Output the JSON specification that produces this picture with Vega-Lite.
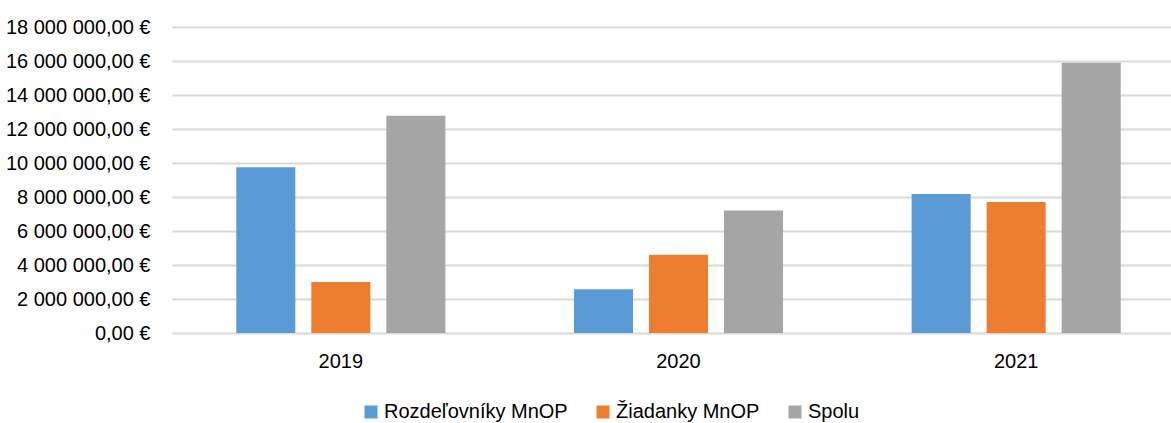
{
  "$schema": "https://vega.github.io/schema/vega-lite/v6.json",
  "width": 999,
  "height": 306,
  "autosize": {"type": "none"},
  "padding": {"left": 172, "top": 27, "right": 0, "bottom": 90},
  "background": "white",
  "config": {
    "view": {"stroke": null},
    "font": "Liberation Sans, Arial",
    "locale": {
      "number": {"decimal": ",", "thousands": " ", "grouping": [3], "currency": ["", " €"]}
    }
  },
  "data": {
    "values": [
      {"rok": "2019", "seria": "Rozdeľovníky MnOP", "suma": 9750000},
      {"rok": "2019", "seria": "Žiadanky MnOP", "suma": 3000000},
      {"rok": "2019", "seria": "Spolu", "suma": 12780000},
      {"rok": "2020", "seria": "Rozdeľovníky MnOP", "suma": 2580000},
      {"rok": "2020", "seria": "Žiadanky MnOP", "suma": 4600000},
      {"rok": "2020", "seria": "Spolu", "suma": 7200000},
      {"rok": "2021", "seria": "Rozdeľovníky MnOP", "suma": 8180000},
      {"rok": "2021", "seria": "Žiadanky MnOP", "suma": 7710000},
      {"rok": "2021", "seria": "Spolu", "suma": 15890000}
    ]
  },
  "mark": {"type": "bar"},
  "encoding": {
    "x": {
      "field": "rok",
      "type": "nominal",
      "scale": {"paddingInner": 0, "paddingOuter": 0, "range": [0, 1013]},
      "axis": {
        "title": null,
        "labelAngle": 0,
        "labelFontSize": 20,
        "labelColor": "#000000",
        "labelPadding": 18,
        "ticks": false,
        "domain": false
      }
    },
    "xOffset": {
      "field": "seria",
      "type": "nominal",
      "scale": {"domain": ["Rozdeľovníky MnOP", "Žiadanky MnOP", "Spolu"], "paddingInner": 0.213, "paddingOuter": 0.857}
    },
    "y": {
      "field": "suma",
      "type": "quantitative",
      "scale": {"domain": [0, 18000000], "nice": false},
      "axis": {
        "title": null,
        "values": [0, 2000000, 4000000, 6000000, 8000000, 10000000, 12000000, 14000000, 16000000, 18000000],
        "format": "$,.2f",
        "labelFontSize": 20,
        "labelColor": "#000000",
        "labelPadding": 22,
        "ticks": false,
        "domain": false,
        "grid": true,
        "gridColor": "#d9d9d9",
        "gridWidth": 2
      }
    },
    "color": {
      "field": "seria",
      "type": "nominal",
      "scale": {
        "domain": ["Rozdeľovníky MnOP", "Žiadanky MnOP", "Spolu"],
        "range": ["#5b9bd5", "#ed7d31", "#a5a5a5"]
      },
      "legend": {
        "title": null,
        "orient": "none",
        "legendX": 189,
        "legendY": 375,
        "direction": "horizontal",
        "symbolType": "square",
        "symbolSize": 169,
        "symbolStrokeWidth": 0,
        "symbolOpacity": 1,
        "labelFontSize": 20,
        "labelLimit": 0,
        "labelColor": "#000000",
        "labelOffset": 3,
        "columnPadding": 25
      }
    }
  }
}
